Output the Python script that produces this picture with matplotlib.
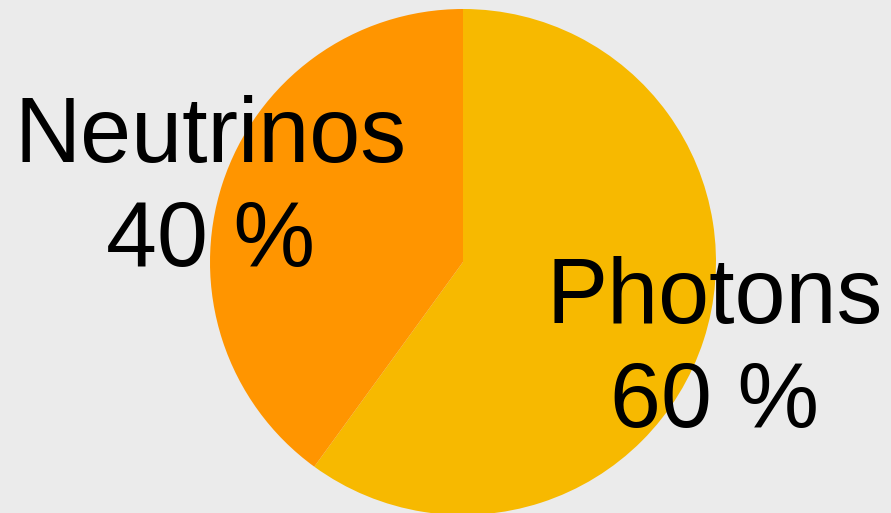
import matplotlib
matplotlib.use("Agg")
import matplotlib.pyplot as plt

labels = ["Photons", "Neutrinos"]
values = [60, 40]
colors = ["#F7B900", "#FF9500"]

W, H = 891, 513
fig = plt.figure(figsize=(W/100, H/100), dpi=100)
fig.patch.set_facecolor("#EBEBEB")
cx, cy, r = 463, 262, 253
ax = fig.add_axes([(cx - r)/W, (H - cy - r)/H, 2*r/W, 2*r/H])
ax.set_facecolor("#EBEBEB")
ax.axis("off")
ax.pie(values, colors=colors, startangle=90, counterclock=False, radius=1,
       wedgeprops=dict(linewidth=0))
ax.set_xlim(-1, 1)
ax.set_ylim(-1, 1)
ax.set_aspect("equal")

label_pos = {"Photons": (0.996, -0.35), "Neutrinos": (-1.0, 0.286)}
for lab, v in zip(labels, values):
    x, y = label_pos[lab]
    ax.text(x, y, f"{lab}\n{v} %", ha="center", va="center", fontsize=66,
            linespacing=1.27, family="Liberation Sans", color="black",
            clip_on=False)

fig.savefig("out.png", dpi=100, facecolor=fig.get_facecolor())
